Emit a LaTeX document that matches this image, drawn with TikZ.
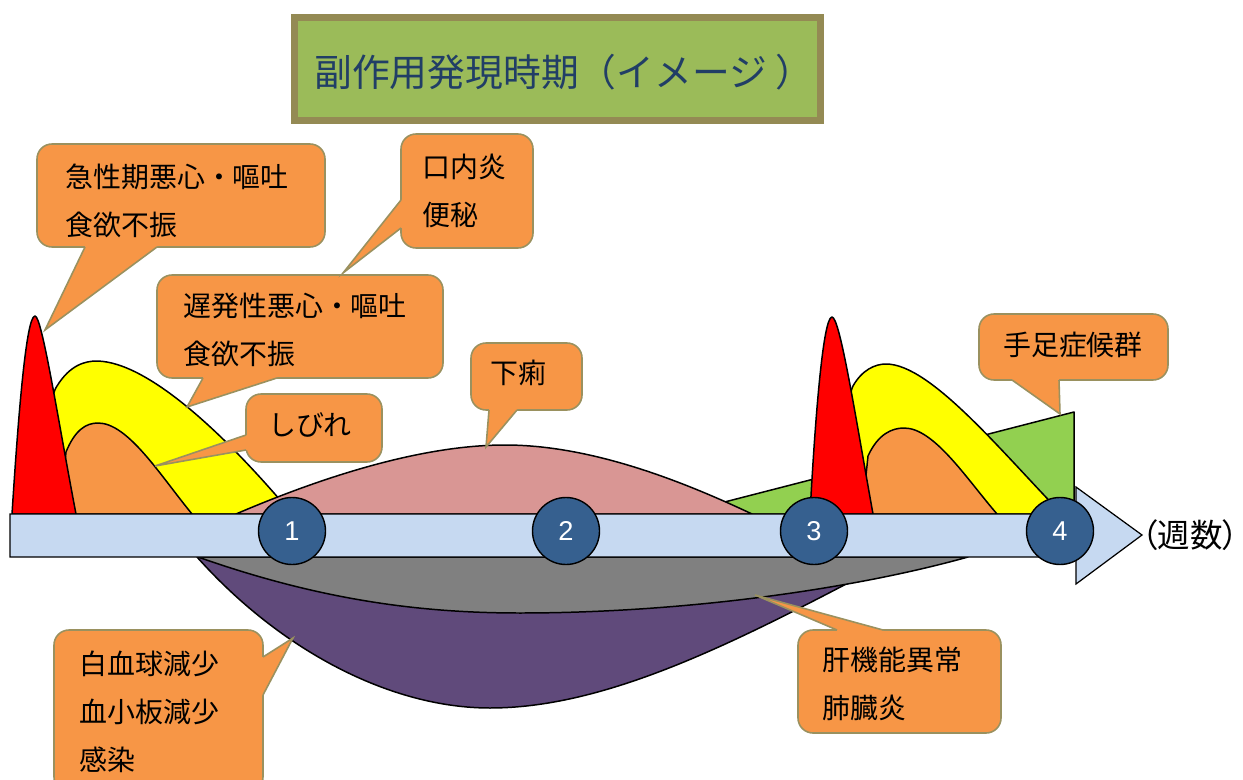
\documentclass[tikz,border=0pt]{standalone}
\usepackage{fontspec}
\setmainfont{Liberation Sans}
\newfontfamily\cjk{Noto Sans CJK JP}
\newfontfamily\cjkp[RawFeature=+palt]{Noto Sans CJK JP}
\newdimen\pxu \pxu=0.02cm
\definecolor{corange}{HTML}{F79646}
\definecolor{cborder}{HTML}{9A915F}
\definecolor{tfill}{HTML}{9BBB59}
\definecolor{tborder}{HTML}{948A54}
\definecolor{tblue}{HTML}{213E66}
\definecolor{cblue}{HTML}{36608F}
\definecolor{barfill}{HTML}{C6D9F1}
\definecolor{cpink}{HTML}{D99694}
\definecolor{cgreen}{HTML}{92D050}
\definecolor{cpurple}{HTML}{604A7B}
\definecolor{cgray}{HTML}{808080}
\definecolor{cred}{HTML}{FF0000}
\definecolor{cyellow}{HTML}{FFFF00}
\tikzset{
  curveshape/.style={draw=black, line width=0.85pt, line join=round},
  callbox/.style={rectangle, draw=cborder, fill=corange, line width=0.9pt, rounded corners=0.3cm, inner sep=0pt},
  ptrline/.style={draw=cborder, line width=0.9pt, line join=miter},
  lbl/.style={font=\cjk\fontsize{15.9pt}{27.3pt}\selectfont, inner sep=0pt, align=left, anchor=west, text=black},
  clbl/.style={font=\cjk\fontsize{15.9pt}{27.3pt}\selectfont, inner sep=0pt, text=black},
  week/.style={circle, draw=black, line width=0.8pt, fill=cblue, minimum size=67\pxu, inner sep=0pt, text=white, font=\fontsize{15.5pt}{18pt}\selectfont},
  arrowbar/.style={draw=black, line width=0.7pt, fill=barfill, line join=miter}
}
\begin{document}
\begin{tikzpicture}[x=0.02cm, y=-0.02cm]
\useasboundingbox (0,0) rectangle (1243,780);

% title
\node[rectangle, draw=tborder, fill=tfill, line width=7\pxu, minimum width=526\pxu, minimum height=103\pxu, inner sep=0pt] (title) at (557.5,69) {};
\node[font=\cjk\fontsize{21.5pt}{24pt}\selectfont, text=tblue, anchor=west, inner sep=0pt] (titletext) at (314,72) {副作用発現時期（イメージ ）};

% upper shapes
\draw[curveshape, fill=cgreen] (678,514) -- (1074,412) -- (1074,514) -- cycle;
\draw[curveshape, fill=cyellow] (40,514) .. controls (45,440) and (50,395) .. (57,386) .. controls (70,365) and (85,361) .. (97,361) .. controls (150,362) and (230,440) .. (292,514) -- cycle;
\draw[curveshape, fill=corange] (60,514) -- (66,452) .. controls (75,430) and (86,423) .. (98,423) .. controls (128,423) and (160,475) .. (192,514) -- cycle;
\draw[curveshape, fill=cpink] (236,514) .. controls (320,478) and (420,445) .. (505,445) .. controls (590,445) and (680,480) .. (752,514) -- cycle;
\draw[curveshape, fill=cred] (12,514) .. controls (18,420) and (26,316) .. (35,316) .. controls (42,316) and (58,420) .. (76,514) -- cycle;
\draw[curveshape, fill=cyellow] (840,514) .. controls (845,440) and (848,395) .. (853,386) .. controls (862,370) and (875,364) .. (886,364) .. controls (930,364) and (1000,450) .. (1062,514) -- cycle;
\draw[curveshape, fill=corange] (862,514) -- (868,456) .. controls (878,434) and (892,428) .. (904,428) .. controls (934,428) and (966,478) .. (997,514) -- cycle;
\draw[curveshape, fill=cred] (810,514) .. controls (815,420) and (823,317) .. (832,317) .. controls (840,317) and (856,420) .. (873,514) -- cycle;

% lower shapes
\draw[curveshape, fill=cpurple] (197,557) .. controls (280,650) and (390,708) .. (490,708) .. controls (600,708) and (720,650) .. (850,582) -- (850,557) -- cycle;
\draw[curveshape, fill=cgray] (198,557) .. controls (320,600) and (420,613) .. (520,613) .. controls (680,613) and (850,590) .. (968,557) -- cycle;

% time axis arrow
\draw[arrowbar] (10,514) -- (1076,514) -- (1076,487) -- (1142,535) -- (1076,584) -- (1076,557) -- (10,557) -- cycle;
\node[font=\cjkp\fontsize{18.5pt}{21pt}\selectfont, anchor=west, inner sep=0pt] (weeks) at (1141,535) {（週数）};

% week markers
\node[week] (w1) at (292,531) {1};
\node[week] (w2) at (566,531) {2};
\node[week] (w3) at (814,531) {3};
\node[week] (w4) at (1060,531) {4};

% pointer tips
\coordinate (t1) at (45,330);
\coordinate (t2) at (343,273);
\coordinate (t3) at (187,407);
\coordinate (t4) at (155,466);
\coordinate (t5) at (486,447);
\coordinate (t6) at (1060,414);
\coordinate (t7) at (293,638);
\coordinate (t8) at (755,595);

% callout boxes
\node[callbox, minimum width=288\pxu, minimum height=103\pxu] (b1) at (181,195.5) {};
\node[callbox, minimum width=132\pxu, minimum height=114\pxu] (b2) at (467,191) {};
\node[callbox, minimum width=286\pxu, minimum height=103\pxu] (b3) at (300,326.5) {};
\node[callbox, minimum width=136\pxu, minimum height=68\pxu] (b4) at (314,428) {};
\node[callbox, minimum width=111\pxu, minimum height=67\pxu] (b5) at (526.5,376.5) {};
\node[callbox, minimum width=189\pxu, minimum height=66\pxu] (b6) at (1073.5,347) {};
\node[callbox, minimum width=209\pxu, minimum height=162\pxu] (b7) at (158.5,711) {};
\node[callbox, minimum width=203\pxu, minimum height=103\pxu] (b8) at (899.5,681.5) {};

% pointers
\fill[corange] (85,243) -- (85,247) -- (t1) -- (157,247) -- (157,243) -- cycle;
\draw[ptrline] (85,247) -- (t1) -- (157,247);
\fill[corange] (405,200) -- (401,200) -- (t2) -- (401,228) -- (405,228) -- cycle;
\draw[ptrline] (401,200) -- (t2) -- (401,228);
\fill[corange] (203,374) -- (203,378) -- (t3) -- (277,378) -- (277,374) -- cycle;
\draw[ptrline] (203,378) -- (t3) -- (277,378);
\fill[corange] (250,435) -- (246,435) -- (t4) -- (246,450) -- (250,450) -- cycle;
\draw[ptrline] (246,435) -- (t4) -- (246,450);
\fill[corange] (489,406) -- (489,410) -- (t5) -- (517,410) -- (517,406) -- cycle;
\draw[ptrline] (489,410) -- (t5) -- (517,410);
\fill[corange] (1012,376) -- (1012,380) -- (t6) -- (1059,380) -- (1059,376) -- cycle;
\draw[ptrline] (1012,380) -- (t6) -- (1059,380);
\fill[corange] (259,657) -- (263,657) -- (t7) -- (263,695) -- (259,695) -- cycle;
\draw[ptrline] (263,657) -- (t7) -- (263,695);
\fill[corange] (837,634) -- (837,630) -- (t8) -- (883,630) -- (883,634) -- cycle;
\draw[ptrline] (837,630) -- (t8) -- (883,630);

% labels
\node[lbl] (l1) at (65,201) {急性期悪心・嘔吐\\食欲不振};
\node[lbl] (l2) at (422,191) {口内炎\\便秘};
\node[lbl] (l3) at (183,330) {遅発性悪心・嘔吐\\食欲不振};
\node[clbl] (l4) at (310,425) {しびれ};
\node[clbl] (l5) at (518,373) {下痢};
\node[clbl] (l6) at (1073,345) {手足症候群};
\node[lbl] (l7) at (79,712) {白血球減少\\血小板減少\\感染};
\node[lbl] (l8) at (822,684) {肝機能異常\\肺臓炎};
\end{tikzpicture}
\end{document}
